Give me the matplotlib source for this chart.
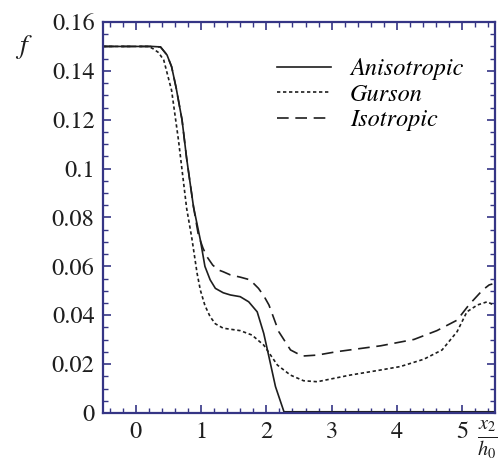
import matplotlib
matplotlib.use("Agg")
import matplotlib.pyplot as plt
from matplotlib.ticker import MultipleLocator, FixedLocator

plt.rcParams['font.family'] = ['TeX Gyre Termes', 'Liberation Serif', 'DejaVu Serif']
plt.rcParams['mathtext.fontset'] = 'stix'

# Anisotropic (solid)
x_aniso = [-0.5, 0.25, 0.38, 0.48, 0.55, 0.62, 0.71, 0.78, 0.885, 0.99, 1.06, 1.14, 1.22, 1.34, 1.45, 1.60, 1.73, 1.86, 1.96, 2.04, 2.14, 2.27, 2.5, 3.0, 4.0, 5.0, 5.5]
f_aniso = [0.150, 0.150, 0.1498, 0.1465, 0.1417, 0.1330, 0.1199, 0.1042, 0.0844, 0.0708, 0.0600, 0.0545, 0.0510, 0.0492, 0.0483, 0.0476, 0.0455, 0.0414, 0.0326, 0.0230, 0.0108, 0.0005, 0.0005, 0.0005, 0.0005, 0.0005, 0.0005]

# Gurson (dotted)
x_gurson = [-0.5, 0.2, 0.27, 0.35, 0.43, 0.55, 0.655, 0.78, 0.86, 0.94, 0.99, 1.06, 1.14, 1.22, 1.34, 1.60, 1.78, 1.96, 2.17, 2.37, 2.57, 2.78, 3.28, 3.75, 4.05, 4.41, 4.69, 4.92, 5.07, 5.23, 5.38, 5.48, 5.5]
f_gurson = [0.150, 0.150, 0.149, 0.1475, 0.1444, 0.132, 0.1117, 0.0838, 0.0715, 0.0572, 0.0503, 0.0440, 0.0394, 0.0365, 0.0347, 0.0337, 0.0319, 0.0278, 0.0196, 0.0155, 0.0132, 0.0128, 0.0155, 0.0176, 0.019, 0.022, 0.0258, 0.0333, 0.0414, 0.0442, 0.0455, 0.0442, 0.0440]

# Isotropic (dashed)
x_iso = [-0.5, 0.25, 0.38, 0.48, 0.55, 0.62, 0.71, 0.78, 0.885, 0.96, 1.03, 1.09, 1.18, 1.27, 1.34, 1.45, 1.60, 1.75, 1.88, 1.96, 2.04, 2.19, 2.37, 2.55, 2.78, 3.08, 3.75, 4.26, 4.61, 4.92, 5.10, 5.31, 5.41, 5.46]
f_iso = [0.150, 0.150, 0.1498, 0.1465, 0.1417, 0.1330, 0.1199, 0.1042, 0.0844, 0.0728, 0.0675, 0.0640, 0.0605, 0.0585, 0.0578, 0.0565, 0.0556, 0.0545, 0.0510, 0.0480, 0.0442, 0.0333, 0.0258, 0.0233, 0.0237, 0.0251, 0.0275, 0.0301, 0.0337, 0.0380, 0.0442, 0.0503, 0.0524, 0.0528]

series_labels = ['Anisotropic', 'Gurson', 'Isotropic']
xticks = [0, 1, 2, 3, 4, 5]
yticks = [0, 0.02, 0.04, 0.06, 0.08, 0.1, 0.12, 0.14, 0.16]
ytick_labels = ['0', '0.02', '0.04', '0.06', '0.08', '0.1', '0.12', '0.14', '0.16']

navy = '#353585'
ink = '#1e1e1e'
fig = plt.figure(figsize=(5.0, 4.65), dpi=100)
ax = fig.add_axes([103/500, 1 - 413/465, (495-103)/500, (413-22)/465])

ax.plot(x_aniso, f_aniso, color=ink, lw=1.2, linestyle='-', label=series_labels[0])
ax.plot(x_gurson, f_gurson, color=ink, lw=1.2, linestyle=(0, (2, 1.6)), label=series_labels[1])
ax.plot(x_iso, f_iso, color=ink, lw=1.2, linestyle=(0, (7, 4)), label=series_labels[2])

ax.set_xlim(-0.5, 5.5)
ax.set_ylim(0, 0.16)
ax.xaxis.set_major_locator(FixedLocator(xticks))
ax.xaxis.set_minor_locator(MultipleLocator(0.2))
ax.yaxis.set_major_locator(FixedLocator(yticks))
ax.set_yticklabels(ytick_labels)
ax.yaxis.set_minor_locator(MultipleLocator(0.005))

for sp in ax.spines.values():
    sp.set_color(navy)
    sp.set_linewidth(1.6)
ax.tick_params(which='both', direction='in', top=True, right=True, color=navy,
               labelsize=17.5, labelcolor=ink)
ax.tick_params(which='major', length=6, width=1.2, pad=6)
ax.tick_params(which='minor', length=3.5, width=1.0)

leg = ax.legend(loc='upper right', bbox_to_anchor=(0.975, 0.965), frameon=False,
                prop={'family': ['TeX Gyre Termes', 'Liberation Serif'], 'style': 'italic', 'size': 17.5},
                handlelength=2.2, handletextpad=0.8, labelspacing=0.12)

fig.text(15/500, 1 - 47/465, r'$f$', fontsize=20, ha='left', va='center', color=ink)
fig.text(487/500, 1 - 440/465, r'$\frac{x_2}{h_0}$', fontsize=21, ha='center', va='center', color=ink)

fig.savefig('out.png', dpi=100)
